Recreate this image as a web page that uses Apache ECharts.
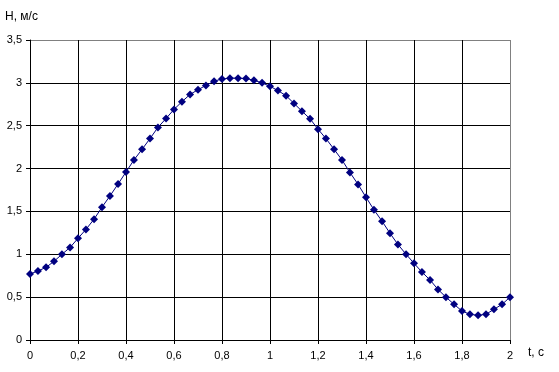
<!DOCTYPE html>
<html>
<head>
<meta charset="utf-8">
<script src="https://cdn.jsdelivr.net/npm/echarts@6/dist/echarts.min.js"></script>
<style>
html,body{margin:0;padding:0;background:#fff;}
#c{width:559px;height:372px;}
</style>
</head>
<body>
<div id="c"></div>
<script>
const tValues = [0,0.033,0.067,0.1,0.133,0.167,0.2,0.233,0.267,0.3,0.333,0.367,0.4,0.433,0.467,0.5,0.533,0.567,0.6,0.633,0.667,0.7,0.733,0.767,0.8,0.833,0.867,0.9,0.933,0.967,1,1.033,1.067,1.1,1.133,1.167,1.2,1.233,1.267,1.3,1.333,1.367,1.4,1.433,1.467,1.5,1.533,1.567,1.6,1.633,1.667,1.7,1.733,1.767,1.8,1.833,1.867,1.9,1.933,1.967,2];
const hValues = [0.77,0.805,0.848,0.918,1.0,1.08,1.186,1.29,1.41,1.55,1.68,1.82,1.96,2.10,2.225,2.35,2.48,2.585,2.69,2.78,2.865,2.92,2.97,3.02,3.045,3.055,3.055,3.05,3.03,3.0,2.96,2.91,2.85,2.76,2.67,2.58,2.46,2.35,2.225,2.10,1.955,1.815,1.665,1.52,1.385,1.245,1.115,1.0,0.895,0.793,0.70,0.59,0.50,0.416,0.338,0.30,0.288,0.30,0.358,0.416,0.50];
const yName = 'Н, м/с';
const xName = 't, с';

const data = tValues.map((t, i) => [t, hValues[i]]);
const fmt = v => String(Math.round(v * 10) / 10).replace('.', ',');
const font = 'Liberation Sans, Arial, sans-serif';

const chart = echarts.init(document.getElementById('c'), null, {renderer: 'canvas'});
chart.setOption({
  animation: false,
  backgroundColor: '#fff',
  grid: {left: 30, right: 49, top: 40, bottom: 32, containLabel: false},
  xAxis: {
    type: 'value', min: 0, max: 2, interval: 0.2,
    axisLine: {show: true, onZero: false, lineStyle: {color: '#000', width: 1}},
    axisTick: {show: true, inside: false, length: 4, lineStyle: {color: '#000'}},
    axisLabel: {color: '#000', fontFamily: font, fontSize: 11, margin: 10, formatter: fmt},
    splitLine: {show: true, lineStyle: {color: ['#000','#000','#000','#000','#000','#000','#000','#000','#000','#000','#808080'], width: 1}}
  },
  yAxis: {
    type: 'value', min: 0, max: 3.5, interval: 0.5,
    axisLine: {show: true, lineStyle: {color: '#000', width: 1}},
    axisTick: {show: true, inside: false, length: 4, lineStyle: {color: '#000'}},
    axisLabel: {color: '#000', fontFamily: font, fontSize: 11, margin: 8, formatter: fmt},
    splitLine: {show: true, lineStyle: {color: ['#000','#000','#000','#000','#000','#000','#000','#808080'], width: 1}}
  },
  graphic: [
    {type: 'text', left: 5, top: 11, style: {text: yName, fontFamily: font, fontSize: 12, fill: '#000'}},
    {type: 'text', left: 528, top: 347, style: {text: xName, fontFamily: font, fontSize: 12, fill: '#000'}}
  ],
  series: [{
    type: 'line',
    data: data,
    smooth: false,
    symbol: 'diamond',
    symbolSize: 8,
    showSymbol: true,
    lineStyle: {color: '#000080', width: 1},
    itemStyle: {color: '#000080', borderWidth: 0}
  }]
});
</script>
</body>
</html>
